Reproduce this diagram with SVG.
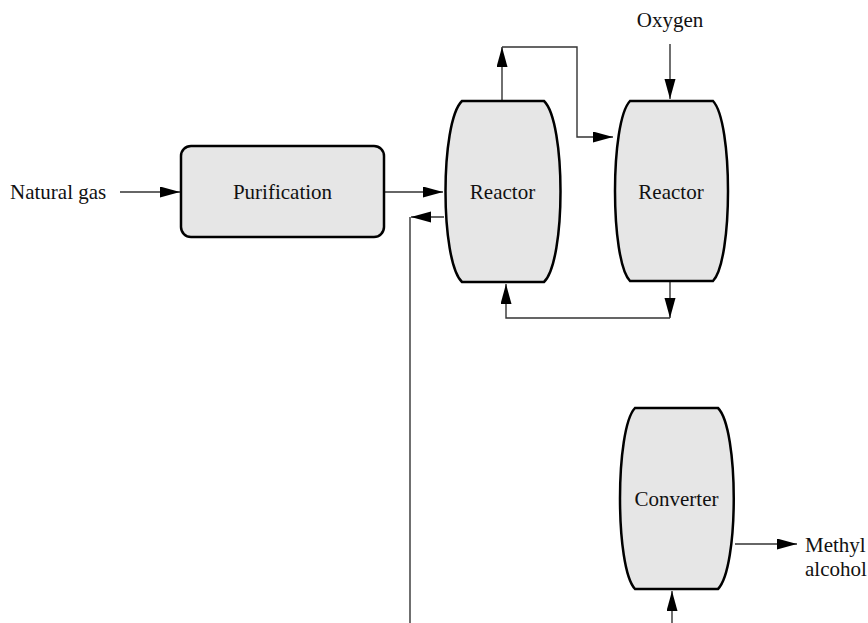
<svg xmlns="http://www.w3.org/2000/svg" width="868" height="623" viewBox="0 0 868 623">
<style>
.node{fill:#e6e6e6;stroke:#000;stroke-width:2.5}
.lbl{font-family:"Liberation Serif","Times New Roman",serif;font-size:21px;fill:#111}
.c{text-anchor:middle}
.wire{fill:none;stroke:#333;stroke-width:1.4}
</style>
<defs>
<marker id="ah" markerUnits="userSpaceOnUse" markerWidth="20" markerHeight="12" refX="20" refY="5.5" orient="auto">
<path d="M0,0 L20,5.5 L0,11 Z" fill="#000"/>
</marker>
</defs>
<rect width="868" height="623" fill="#fff"/>
<g id="connectors">
<path class="wire" d="M120,192 H180" marker-end="url(#ah)"/>
<path class="wire" d="M385,192 H443" marker-end="url(#ah)"/>
<path class="wire" d="M444,217 H411" marker-end="url(#ah)"/>
<path class="wire" d="M410,217 V623"/>
<path class="wire" d="M502,101 V47" marker-end="url(#ah)"/>
<path class="wire" d="M502,47 H577 V137 H613" marker-end="url(#ah)"/>
<path class="wire" d="M670,44 V99" marker-end="url(#ah)"/>
<path class="wire" d="M670,282 V318" marker-end="url(#ah)"/>
<path class="wire" d="M670,318 H506 V284" marker-end="url(#ah)"/>
<path class="wire" d="M735,544 H797" marker-end="url(#ah)"/>
<path class="wire" d="M672,623 V591" marker-end="url(#ah)"/>
</g>
<g id="natural-gas">
<text class="lbl" x="10" y="199">Natural gas</text>
</g>
<g id="oxygen">
<text class="lbl c" x="670" y="27">Oxygen</text>
</g>
<g id="methyl-alcohol">
<text class="lbl" x="805" y="552">Methyl</text>
<text class="lbl" x="805" y="576">alcohol</text>
</g>
<g id="purification">
<rect class="node" x="181" y="146" width="203" height="91" rx="10"/>
<text class="lbl c" x="282.5" y="199">Purification</text>
</g>
<g id="reactor1">
<path class="node" d="M462,101 H544 C566,122 566,261 544,282 H462 C440,261 440,122 462,101 Z"/>
<text class="lbl c" x="502.5" y="199">Reactor</text>
</g>
<g id="reactor2">
<path class="node" d="M630,101 H713 C733,122 733,260 713,281 H630 C610,260 610,122 630,101 Z"/>
<text class="lbl c" x="671" y="199">Reactor</text>
</g>
<g id="converter">
<path class="node" d="M635,408 H718 C739,429 739,568 718,589 H635 C615,568 615,429 635,408 Z"/>
<text class="lbl c" x="676.5" y="506">Converter</text>
</g>
</svg>
